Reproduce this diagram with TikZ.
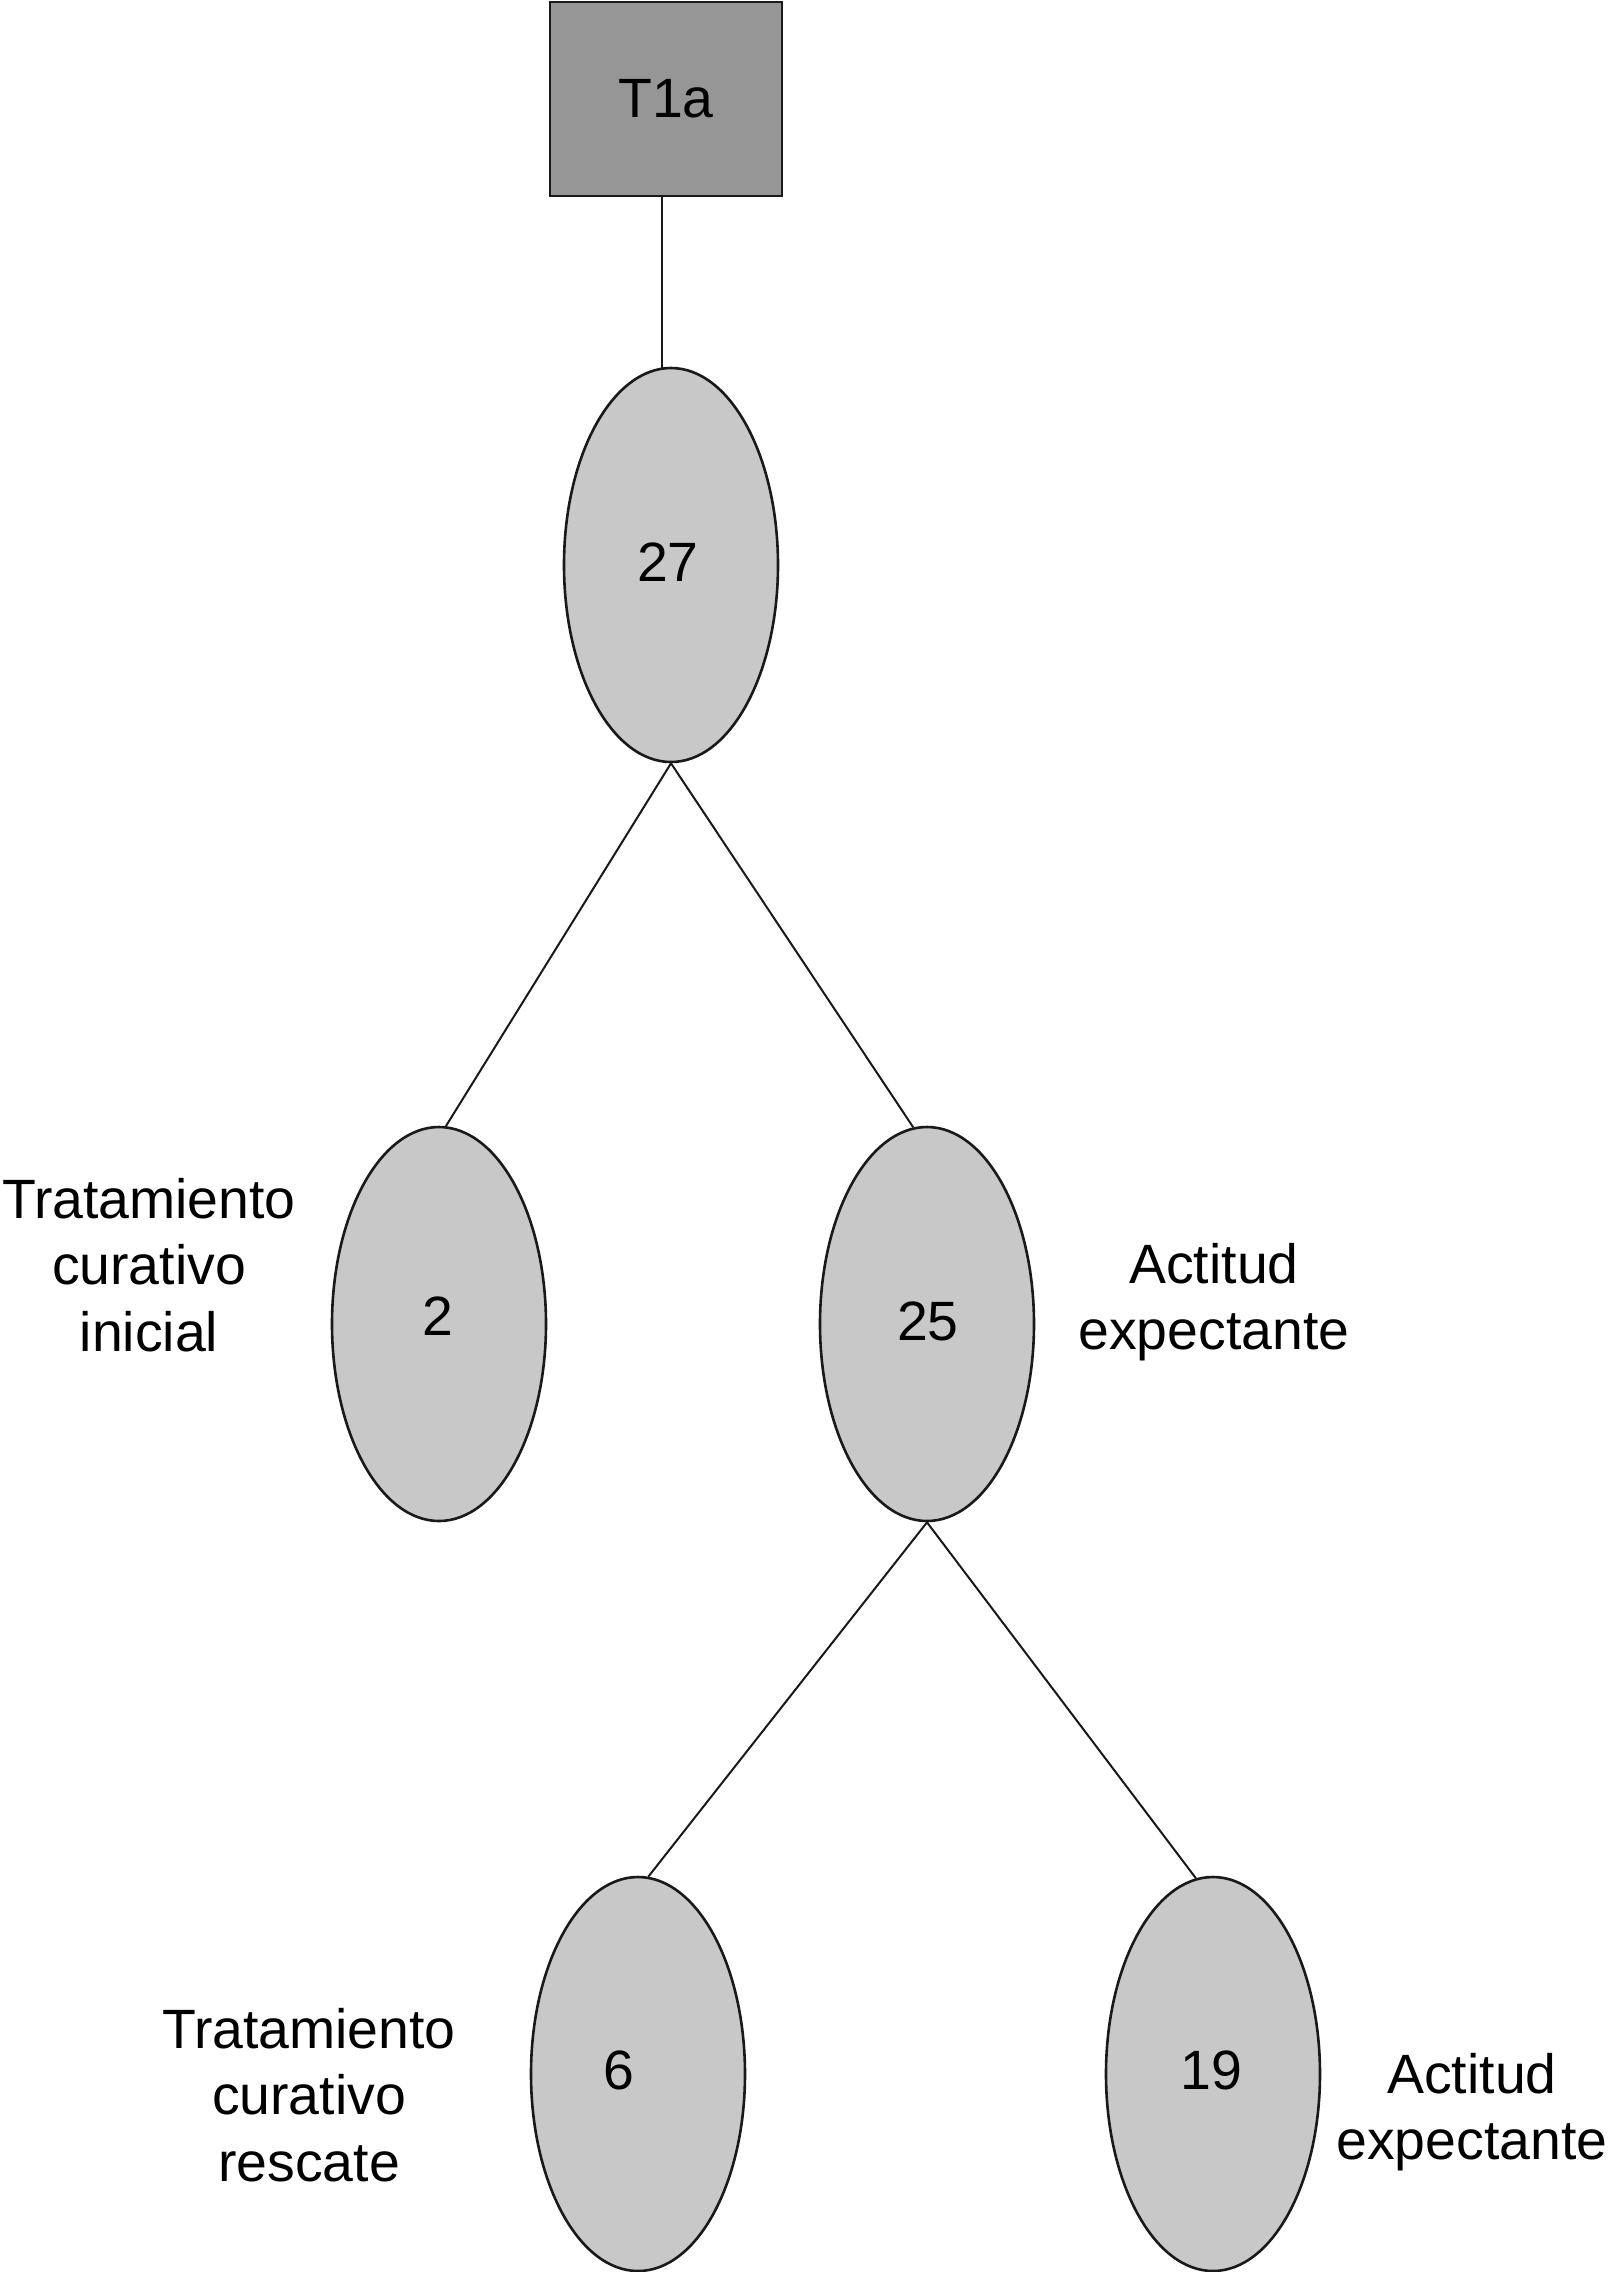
\documentclass[tikz,border=0pt]{standalone}
\usepackage{fontspec}
\setmainfont{Liberation Sans}
\usetikzlibrary{shapes.geometric,calc}
\definecolor{boxgray}{HTML}{969696}
\definecolor{ellgray}{HTML}{C8C8C8}
\tikzset{
  rootbox/.style={draw=black!90, line width=1.4pt, fill=boxgray, minimum width=116pt, minimum height=97pt, inner sep=0pt, font=\fontsize{27.7}{33.3}\selectfont},
  countell/.style={ellipse, draw=black!90, line width=1.3pt, fill=ellgray, minimum width=107pt, minimum height=197pt, inner sep=0pt, font=\fontsize{27.7}{33.3}\selectfont},
  lbl/.style={align=center, inner sep=0pt, font=\fontsize{27.7}{33.3}\selectfont},
  conn/.style={line width=1.0pt, black!90}
}
\begin{document}
\begin{tikzpicture}[x=0.5pt,y=-0.5pt]
\useasboundingbox (0,0) rectangle (1611,2272);
\node[rootbox] (root) at (666,99) {T1a};
\node[countell] (e27) at (671,565) {};
\node[countell] (e2) at (439,1324) {};
\node[countell] (e25) at (927,1324) {};
\node[countell] (e6) at (638,2074) {};
\node[countell] (e19) at (1213,2074) {};
\node[lbl] (n27) at ($(e27.center)+(-3,-3)$) {27};
\node[lbl] (n2) at ($(e2.center)+(-1,-8)$) {2};
\node[lbl] (n25) at ($(e25.center)+(1,-3)$) {25};
\node[lbl] (n6) at ($(e6.center)+(-19,-4)$) {6};
\node[lbl] (n19) at ($(e19.center)+(-2,-4)$) {19};
\coordinate (r1) at ($(root.south)+(-4,0)$);
\coordinate (r2) at (r1 |- e27.north);
\draw[conn] (r1) -- ($(r2)+(0,2)$);
\draw[conn] (e27.south) -- (e2.88);
\draw[conn] (e27.south) -- (e25.94);
\draw[conn] (e25.south) -- (e6.87);
\draw[conn] (e25.south) -- (e19.95.5);
\node[lbl] (l2) at (149,1265) {Tratamiento\\curativo\\inicial};
\node[lbl] (l25) at (1214,1302) {Actitud\\expectante};
\node[lbl] (l6) at (309,2095) {Tratamiento\\curativo\\rescate};
\node[lbl] (l19) at (1472,2112) {Actitud\\expectante};
\end{tikzpicture}
\end{document}
